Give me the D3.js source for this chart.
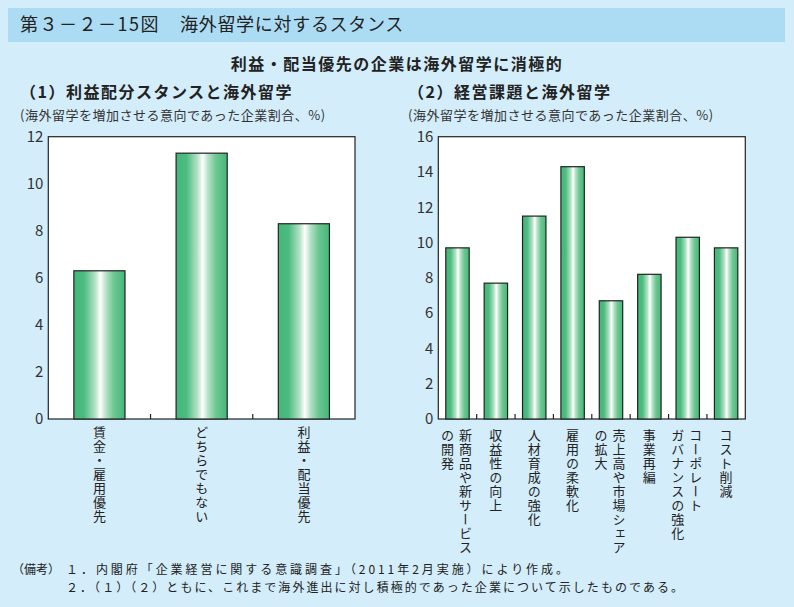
<!DOCTYPE html>
<html><head><meta charset="utf-8">
<script src="https://cdn.jsdelivr.net/npm/d3@7"></script>
<style>
html,body{margin:0;padding:0;background:#d3edfa;}
svg{display:block;}
text{font-family:"Noto Sans CJK JP","Noto Sans",sans-serif;}
</style></head><body>
<svg id="c" width="794" height="607"></svg>
<script>
// ---- data ----
const categories1 = ["賃金・雇用優先", "どちらでもない", "利益・配当優先"];
const values1 = [6.3, 11.3, 8.3];
const yTicks1 = [0, 2, 4, 6, 8, 10, 12];

const categories2 = ["新商品や新サービス\nの開発", "収益性の向上", "人材育成の強化", "雇用の柔軟化",
  "売上高や市場シェア\nの拡大", "事業再編", "コーポレート\nガバナンスの強化", "コスト削減"];
const values2 = [9.7, 7.7, 11.5, 14.3, 6.7, 8.2, 10.3, 9.7];
const yTicks2 = [0, 2, 4, 6, 8, 10, 12, 14, 16];

const titleNo = "第３－２－15図";
const titleText = "海外留学に対するスタンス";
const subtitle = "利益・配当優先の企業は海外留学に消極的";
const panelTitles = ["（1）利益配分スタンスと海外留学", "（2）経営課題と海外留学"];
const unitText = "(海外留学を増加させる意向であった企業割合、%)";
const notes = ["（備考）", "１．内閣府「企業経営に関する意識調査」（2011年2月実施）により作成。",
  "２．（１）（２）ともに、これまで海外進出に対し積極的であった企業について示したものである。"];

// ---- drawing ----
const svg = d3.select("#c");
const defs = svg.append("defs");
const grad = defs.append("linearGradient").attr("id", "barGrad")
  .attr("x1", "0%").attr("x2", "100%").attr("y1", "0%").attr("y2", "0%");
[[0, "#43b87a"], [0.2, "#4cbb80"], [0.42, "#b5e2c6"], [0.52, "#ffffff"], [0.62, "#b9e3ca"], [0.78, "#6ec791"], [1, "#43b87a"]]
  .forEach(([o, c]) => grad.append("stop").attr("offset", o).attr("stop-color", c));

// title bar
svg.append("rect").attr("x", 8).attr("y", 8).attr("width", 777).attr("height", 34).attr("fill", "#acdcf4");
svg.append("text").attr("x", 20).attr("y", 31).attr("font-size", 18).attr("fill", "#222")
  .attr("letter-spacing", 1.5).text(titleNo);
svg.append("text").attr("x", 180).attr("y", 31).attr("font-size", 18).attr("fill", "#222")
  .attr("letter-spacing", 0.7).text(titleText);

svg.append("text").attr("x", 397).attr("y", 70).attr("text-anchor", "middle").attr("font-size", 16)
  .attr("font-weight", "bold").attr("letter-spacing", 1.5).attr("fill", "#222").text(subtitle);

function panel(opts) {
  const {x0, x1, y0, y1, cats, vals, ticks, pIn, title, tx, ux, labelTop} = opts;
  const y = d3.scaleLinear().domain([0, ticks[ticks.length - 1]]).range([y1, y0]);
  const x = d3.scaleBand().domain(cats).range([x0, x1]).paddingInner(pIn).paddingOuter(pIn / 2);
  const g = svg.append("g");
  g.append("text").attr("x", tx).attr("y", 98).attr("font-size", 16).attr("font-weight", "bold")
    .attr("letter-spacing", 1.5).attr("fill", "#222").text(title);
  g.append("text").attr("x", ux).attr("y", 120).attr("font-size", 13).attr("letter-spacing", 0.5)
    .attr("fill", "#333").text(unitText);
  g.append("rect").attr("x", x0).attr("y", y0).attr("width", x1 - x0).attr("height", y1 - y0)
    .attr("fill", "#fff").attr("stroke", "#222").attr("stroke-width", 1.2);
  // y axis labels
  const ya = g.append("g").attr("transform", `translate(${x0},0)`)
    .call(d3.axisLeft(y).tickValues(ticks).tickSize(0).tickPadding(5).tickFormat(d3.format("d")));
  ya.select(".domain").remove();
  ya.attr("font-size", 15).attr("font-family", "'Liberation Sans',Arial,sans-serif");
  ya.selectAll("text").attr("fill", "#333");
  // bars
  g.selectAll("rect.bar").data(vals).join("rect").attr("class", "bar")
    .attr("x", (d, i) => x(cats[i])).attr("y", d => y(d))
    .attr("width", x.bandwidth()).attr("height", d => y(0) - y(d))
    .attr("fill", "url(#barGrad)").attr("stroke", "#222").attr("stroke-width", 1.2);
  // x ticks between bars
  const step = x.step();
  g.selectAll("line.tk").data(cats.slice(1)).join("line").attr("class", "tk")
    .attr("x1", d => x(d) - step * pIn / 2).attr("x2", d => x(d) - step * pIn / 2)
    .attr("y1", y1).attr("y2", y1 - 5).attr("stroke", "#222").attr("stroke-width", 1.2);
  // vertical labels
  cats.forEach(c => {
    const lines = c.split("\n");
    const cx = x(c) + x.bandwidth() / 2;
    lines.forEach((ln, j) => {
      const off = lines.length === 1 ? 0 : (j === 0 ? 8 : -10);
      g.append("text").attr("x", cx + off).attr("y", labelTop)
        .style("writing-mode", "vertical-rl").attr("font-size", 13).attr("letter-spacing", 1)
        .attr("fill", "#222").text(ln);
    });
  });
}

panel({x0: 48.3, x1: 355, y0: 136.7, y1: 419, cats: categories1, vals: values1, ticks: yTicks1,
  pIn: 0.5, title: panelTitles[0], tx: 20, ux: 20, labelTop: 426});
panel({x0: 438.3, x1: 745.3, y0: 136.7, y1: 419, cats: categories2, vals: values2, ticks: yTicks2,
  pIn: 0.39, title: panelTitles[1], tx: 408, ux: 408, labelTop: 429});

// notes
svg.append("text").attr("x", 12).attr("y", 574).attr("font-size", 12).attr("fill", "#222").text(notes[0]);
svg.append("text").attr("x", 66).attr("y", 574).attr("font-size", 12).attr("fill", "#222")
  .attr("textLength", 502).attr("lengthAdjust", "spacing").text(notes[1]);
svg.append("text").attr("x", 66).attr("y", 592).attr("font-size", 12).attr("fill", "#222")
  .attr("textLength", 617).attr("lengthAdjust", "spacing").text(notes[2]);
</script></body></html>
